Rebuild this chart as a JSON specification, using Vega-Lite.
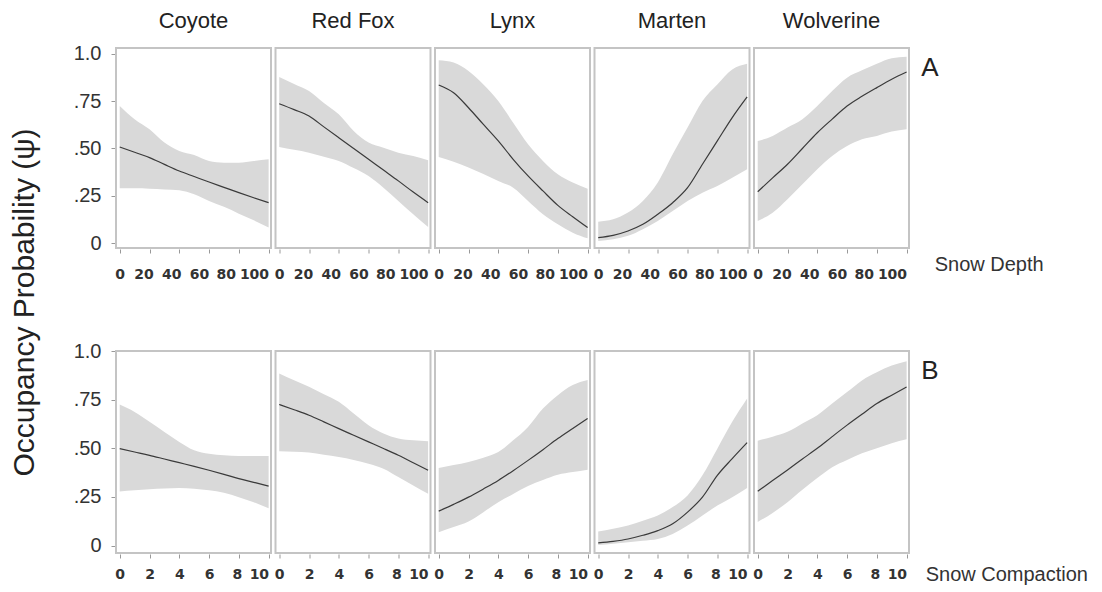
{
  "$schema": "https://vega.github.io/schema/vega-lite/v6.json",
  "background": "white",
  "padding": {"left": 10, "top": 10, "right": 5, "bottom": 5},
  "title": {"text": "Occupancy Probability  (ψ)", "orient": "left", "anchor": "middle", "fontSize": 30, "fontWeight": "normal", "font": "Liberation Sans", "color": "#222222", "offset": 33, "dx": -5},
  "datasets": {
    "depth": [
      {"r":"A","s":"Coyote","x":0,"y":0.508,"lo":0.29,"hi":0.724},
      {"r":"A","s":"Coyote","x":10,"y":0.48,"lo":0.29,"hi":0.654},
      {"r":"A","s":"Coyote","x":20,"y":0.452,"lo":0.288,"hi":0.601},
      {"r":"A","s":"Coyote","x":30,"y":0.416,"lo":0.284,"hi":0.531},
      {"r":"A","s":"Coyote","x":40,"y":0.381,"lo":0.279,"hi":0.487},
      {"r":"A","s":"Coyote","x":50,"y":0.352,"lo":0.258,"hi":0.466},
      {"r":"A","s":"Coyote","x":60,"y":0.323,"lo":0.223,"hi":0.434},
      {"r":"A","s":"Coyote","x":70,"y":0.295,"lo":0.192,"hi":0.425},
      {"r":"A","s":"Coyote","x":80,"y":0.267,"lo":0.156,"hi":0.425},
      {"r":"A","s":"Coyote","x":90,"y":0.24,"lo":0.121,"hi":0.434},
      {"r":"A","s":"Coyote","x":100,"y":0.214,"lo":0.083,"hi":0.443},
      {"r":"A","s":"Red Fox","x":0,"y":0.736,"lo":0.508,"hi":0.877},
      {"r":"A","s":"Red Fox","x":10,"y":0.705,"lo":0.493,"hi":0.84},
      {"r":"A","s":"Red Fox","x":20,"y":0.671,"lo":0.478,"hi":0.803},
      {"r":"A","s":"Red Fox","x":30,"y":0.614,"lo":0.457,"hi":0.74},
      {"r":"A","s":"Red Fox","x":40,"y":0.557,"lo":0.434,"hi":0.68},
      {"r":"A","s":"Red Fox","x":50,"y":0.5,"lo":0.397,"hi":0.592},
      {"r":"A","s":"Red Fox","x":60,"y":0.443,"lo":0.355,"hi":0.531},
      {"r":"A","s":"Red Fox","x":70,"y":0.386,"lo":0.293,"hi":0.504},
      {"r":"A","s":"Red Fox","x":80,"y":0.329,"lo":0.223,"hi":0.478},
      {"r":"A","s":"Red Fox","x":90,"y":0.27,"lo":0.153,"hi":0.46},
      {"r":"A","s":"Red Fox","x":100,"y":0.214,"lo":0.086,"hi":0.438},
      {"r":"A","s":"Lynx","x":0,"y":0.835,"lo":0.455,"hi":0.965},
      {"r":"A","s":"Lynx","x":10,"y":0.794,"lo":0.43,"hi":0.953},
      {"r":"A","s":"Lynx","x":20,"y":0.715,"lo":0.4,"hi":0.909},
      {"r":"A","s":"Lynx","x":30,"y":0.627,"lo":0.365,"hi":0.838},
      {"r":"A","s":"Lynx","x":40,"y":0.54,"lo":0.329,"hi":0.75},
      {"r":"A","s":"Lynx","x":50,"y":0.443,"lo":0.293,"hi":0.636},
      {"r":"A","s":"Lynx","x":60,"y":0.355,"lo":0.223,"hi":0.522},
      {"r":"A","s":"Lynx","x":70,"y":0.276,"lo":0.153,"hi":0.434},
      {"r":"A","s":"Lynx","x":80,"y":0.2,"lo":0.1,"hi":0.364},
      {"r":"A","s":"Lynx","x":90,"y":0.14,"lo":0.056,"hi":0.32},
      {"r":"A","s":"Lynx","x":100,"y":0.083,"lo":0.026,"hi":0.288},
      {"r":"A","s":"Marten","x":0,"y":0.03,"lo":0.012,"hi":0.114},
      {"r":"A","s":"Marten","x":10,"y":0.042,"lo":0.021,"hi":0.127},
      {"r":"A","s":"Marten","x":20,"y":0.065,"lo":0.039,"hi":0.162},
      {"r":"A","s":"Marten","x":30,"y":0.1,"lo":0.074,"hi":0.223},
      {"r":"A","s":"Marten","x":40,"y":0.153,"lo":0.118,"hi":0.32},
      {"r":"A","s":"Marten","x":50,"y":0.214,"lo":0.17,"hi":0.469},
      {"r":"A","s":"Marten","x":60,"y":0.293,"lo":0.223,"hi":0.61},
      {"r":"A","s":"Marten","x":70,"y":0.417,"lo":0.267,"hi":0.75},
      {"r":"A","s":"Marten","x":80,"y":0.54,"lo":0.302,"hi":0.838},
      {"r":"A","s":"Marten","x":90,"y":0.663,"lo":0.346,"hi":0.917},
      {"r":"A","s":"Marten","x":100,"y":0.772,"lo":0.39,"hi":0.947},
      {"r":"A","s":"Wolverine","x":0,"y":0.272,"lo":0.118,"hi":0.539},
      {"r":"A","s":"Wolverine","x":10,"y":0.345,"lo":0.161,"hi":0.566},
      {"r":"A","s":"Wolverine","x":20,"y":0.417,"lo":0.232,"hi":0.61},
      {"r":"A","s":"Wolverine","x":30,"y":0.5,"lo":0.311,"hi":0.654},
      {"r":"A","s":"Wolverine","x":40,"y":0.583,"lo":0.39,"hi":0.724},
      {"r":"A","s":"Wolverine","x":50,"y":0.655,"lo":0.46,"hi":0.803},
      {"r":"A","s":"Wolverine","x":60,"y":0.724,"lo":0.513,"hi":0.873},
      {"r":"A","s":"Wolverine","x":70,"y":0.775,"lo":0.549,"hi":0.912},
      {"r":"A","s":"Wolverine","x":80,"y":0.821,"lo":0.566,"hi":0.947},
      {"r":"A","s":"Wolverine","x":90,"y":0.865,"lo":0.589,"hi":0.976},
      {"r":"A","s":"Wolverine","x":100,"y":0.903,"lo":0.601,"hi":0.984}
    ],
    "comp": [
      {"r":"B","s":"Coyote","x":0,"y":0.498,"lo":0.278,"hi":0.725},
      {"r":"B","s":"Coyote","x":1,"y":0.481,"lo":0.284,"hi":0.687},
      {"r":"B","s":"Coyote","x":2,"y":0.464,"lo":0.289,"hi":0.636},
      {"r":"B","s":"Coyote","x":3,"y":0.445,"lo":0.293,"hi":0.584},
      {"r":"B","s":"Coyote","x":4,"y":0.426,"lo":0.296,"hi":0.533},
      {"r":"B","s":"Coyote","x":5,"y":0.407,"lo":0.292,"hi":0.49},
      {"r":"B","s":"Coyote","x":6,"y":0.387,"lo":0.284,"hi":0.472},
      {"r":"B","s":"Coyote","x":7,"y":0.366,"lo":0.271,"hi":0.464},
      {"r":"B","s":"Coyote","x":8,"y":0.344,"lo":0.249,"hi":0.46},
      {"r":"B","s":"Coyote","x":9,"y":0.325,"lo":0.223,"hi":0.46},
      {"r":"B","s":"Coyote","x":10,"y":0.306,"lo":0.192,"hi":0.46},
      {"r":"B","s":"Red Fox","x":0,"y":0.725,"lo":0.485,"hi":0.885},
      {"r":"B","s":"Red Fox","x":1,"y":0.698,"lo":0.482,"hi":0.85},
      {"r":"B","s":"Red Fox","x":2,"y":0.67,"lo":0.478,"hi":0.816},
      {"r":"B","s":"Red Fox","x":3,"y":0.636,"lo":0.467,"hi":0.778},
      {"r":"B","s":"Red Fox","x":4,"y":0.601,"lo":0.455,"hi":0.739},
      {"r":"B","s":"Red Fox","x":5,"y":0.567,"lo":0.44,"hi":0.679},
      {"r":"B","s":"Red Fox","x":6,"y":0.533,"lo":0.421,"hi":0.619},
      {"r":"B","s":"Red Fox","x":7,"y":0.499,"lo":0.395,"hi":0.576},
      {"r":"B","s":"Red Fox","x":8,"y":0.464,"lo":0.352,"hi":0.55},
      {"r":"B","s":"Red Fox","x":9,"y":0.426,"lo":0.309,"hi":0.541},
      {"r":"B","s":"Red Fox","x":10,"y":0.387,"lo":0.266,"hi":0.536},
      {"r":"B","s":"Lynx","x":0,"y":0.177,"lo":0.069,"hi":0.399},
      {"r":"B","s":"Lynx","x":1,"y":0.212,"lo":0.095,"hi":0.414},
      {"r":"B","s":"Lynx","x":2,"y":0.249,"lo":0.124,"hi":0.43},
      {"r":"B","s":"Lynx","x":3,"y":0.291,"lo":0.172,"hi":0.452},
      {"r":"B","s":"Lynx","x":4,"y":0.335,"lo":0.223,"hi":0.481},
      {"r":"B","s":"Lynx","x":5,"y":0.385,"lo":0.265,"hi":0.541},
      {"r":"B","s":"Lynx","x":6,"y":0.438,"lo":0.306,"hi":0.61},
      {"r":"B","s":"Lynx","x":7,"y":0.493,"lo":0.337,"hi":0.704},
      {"r":"B","s":"Lynx","x":8,"y":0.55,"lo":0.364,"hi":0.773},
      {"r":"B","s":"Lynx","x":9,"y":0.602,"lo":0.378,"hi":0.825},
      {"r":"B","s":"Lynx","x":10,"y":0.653,"lo":0.39,"hi":0.851},
      {"r":"B","s":"Marten","x":0,"y":0.014,"lo":0.003,"hi":0.072},
      {"r":"B","s":"Marten","x":1,"y":0.022,"lo":0.01,"hi":0.087},
      {"r":"B","s":"Marten","x":2,"y":0.034,"lo":0.017,"hi":0.103},
      {"r":"B","s":"Marten","x":3,"y":0.053,"lo":0.025,"hi":0.128},
      {"r":"B","s":"Marten","x":4,"y":0.077,"lo":0.034,"hi":0.155},
      {"r":"B","s":"Marten","x":5,"y":0.112,"lo":0.06,"hi":0.198},
      {"r":"B","s":"Marten","x":6,"y":0.172,"lo":0.103,"hi":0.258},
      {"r":"B","s":"Marten","x":7,"y":0.249,"lo":0.155,"hi":0.361},
      {"r":"B","s":"Marten","x":8,"y":0.361,"lo":0.206,"hi":0.498},
      {"r":"B","s":"Marten","x":9,"y":0.447,"lo":0.249,"hi":0.636},
      {"r":"B","s":"Marten","x":10,"y":0.529,"lo":0.296,"hi":0.756},
      {"r":"B","s":"Wolverine","x":0,"y":0.279,"lo":0.121,"hi":0.539},
      {"r":"B","s":"Wolverine","x":1,"y":0.334,"lo":0.168,"hi":0.56},
      {"r":"B","s":"Wolverine","x":2,"y":0.389,"lo":0.223,"hi":0.585},
      {"r":"B","s":"Wolverine","x":3,"y":0.445,"lo":0.287,"hi":0.628},
      {"r":"B","s":"Wolverine","x":4,"y":0.5,"lo":0.347,"hi":0.67},
      {"r":"B","s":"Wolverine","x":5,"y":0.56,"lo":0.403,"hi":0.73},
      {"r":"B","s":"Wolverine","x":6,"y":0.619,"lo":0.44,"hi":0.789},
      {"r":"B","s":"Wolverine","x":7,"y":0.675,"lo":0.474,"hi":0.849},
      {"r":"B","s":"Wolverine","x":8,"y":0.73,"lo":0.5,"hi":0.891},
      {"r":"B","s":"Wolverine","x":9,"y":0.773,"lo":0.526,"hi":0.925},
      {"r":"B","s":"Wolverine","x":10,"y":0.815,"lo":0.546,"hi":0.947}
    ]
  },
  "vconcat": [
    {
      "data": {"name": "depth"},
      "title": {"text": "Snow Depth", "orient": "bottom", "anchor": "end", "align": "left", "dx": -4, "offset": -26, "fontSize": 20, "fontWeight": "normal", "font": "Liberation Sans", "color": "#333333"},
      "facet": {
        "column": {"field": "s", "type": "nominal", "sort": ["Coyote", "Red Fox", "Lynx", "Marten", "Wolverine"],
          "header": {"title": null, "labelFontSize": 22, "labelFont": "Liberation Sans", "labelColor": "#222222", "labelPadding": 14}},
        "row": {"field": "r", "type": "nominal",
          "header": {"title": null, "labelOrient": "right", "labelAngle": 0, "labelAlign": "left", "labelAnchor": "start", "labelBaseline": "line-top", "labelLineHeight": 40, "labelFontSize": 26, "labelFont": "Liberation Sans", "labelColor": "#222222", "labelPadding": -7}}
      },
      "spacing": {"column": 1.5, "row": 0},
      "spec": {
        "width": 155,
        "height": 200,
        "layer": [
          {
            "mark": {"type": "area", "color": "#d9d9d9", "opacity": 1, "interpolate": "monotone"},
            "encoding": {
              "x": {"field": "x", "type": "quantitative", "title": null,
                "scale": {"domain": [-2.5, 101.6], "nice": false, "zero": false},
                "axis": {"values": [0, 20, 40, 60, 80, 100], "tickCount": 11, "labelOverlap": false, "labelFlush": false, "labelFont": "DejaVu Sans", "labelFontWeight": "bold", "labelFontSize": 14, "labelPadding": 14,
                  "labelAlign": {"condition": {"test": "datum.value == 100", "value": "right"}, "value": "center"},
                  "labelOffset": {"condition": [{"test": "datum.value == 20", "value": -6}, {"test": "datum.value == 40", "value": -8}, {"test": "datum.value == 60", "value": -10}, {"test": "datum.value == 80", "value": -13}], "value": 0}}},
              "y": {"field": "lo", "type": "quantitative", "title": null,
                "scale": {"domain": [-0.025, 1.03], "nice": false, "zero": false},
                "axis": {"values": [0, 0.25, 0.5, 0.75, 1], "tickCount": 10, "labelExpr": "datum.value == 1 ? '1.0' : datum.value == 0 ? '0' : substring(format(datum.value, '.2f'), 1)", "labelFont": "Liberation Sans", "labelFontSize": 20, "labelPadding": 10}},
              "y2": {"field": "hi"}
            }
          },
          {
            "mark": {"type": "line", "color": "#3a3a3a", "strokeWidth": 1.2, "interpolate": "monotone"},
            "encoding": {
              "x": {"field": "x", "type": "quantitative"},
              "y": {"field": "y", "type": "quantitative"}
            }
          }
        ]
      }
    },
    {
      "data": {"name": "comp"},
      "title": {"text": "Snow Compaction", "orient": "bottom", "anchor": "end", "align": "left", "dx": -13, "offset": -16, "fontSize": 20, "fontWeight": "normal", "font": "Liberation Sans", "color": "#333333"},
      "facet": {
        "column": {"field": "s", "type": "nominal", "sort": ["Coyote", "Red Fox", "Lynx", "Marten", "Wolverine"],
          "header": {"title": null, "labels": false}},
        "row": {"field": "r", "type": "nominal",
          "header": {"title": null, "labelOrient": "right", "labelAngle": 0, "labelAlign": "left", "labelAnchor": "start", "labelBaseline": "line-top", "labelLineHeight": 40, "labelFontSize": 26, "labelFont": "Liberation Sans", "labelColor": "#222222", "labelPadding": -7}}
      },
      "spacing": {"column": 1.5, "row": 0},
      "spec": {
        "width": 155,
        "height": 202,
        "layer": [
          {
            "mark": {"type": "area", "color": "#d9d9d9", "opacity": 1, "interpolate": "monotone"},
            "encoding": {
              "x": {"field": "x", "type": "quantitative", "title": null,
                "scale": {"domain": [-0.25, 10.16], "nice": false, "zero": false},
                "axis": {"values": [0, 2, 4, 6, 8, 10], "tickCount": 11, "labelOverlap": false, "labelFlush": false, "labelFont": "DejaVu Sans", "labelFontWeight": "bold", "labelFontSize": 14, "labelPadding": 9,
                  "labelAlign": {"condition": {"test": "datum.value == 10", "value": "right"}, "value": "center"},
                  "labelOffset": {"condition": {"test": "datum.value == 8", "value": -2}, "value": 0}}},
              "y": {"field": "lo", "type": "quantitative", "title": null,
                "scale": {"domain": [-0.038, 1.0], "nice": false, "zero": false},
                "axis": {"values": [0, 0.25, 0.5, 0.75, 1], "tickCount": 10, "labelExpr": "datum.value == 1 ? '1.0' : datum.value == 0 ? '0' : substring(format(datum.value, '.2f'), 1)", "labelFont": "Liberation Sans", "labelFontSize": 20, "labelPadding": 10}},
              "y2": {"field": "hi"}
            }
          },
          {
            "mark": {"type": "line", "color": "#3a3a3a", "strokeWidth": 1.2, "interpolate": "monotone"},
            "encoding": {
              "x": {"field": "x", "type": "quantitative"},
              "y": {"field": "y", "type": "quantitative"}
            }
          }
        ]
      }
    }
  ],
  "spacing": 60,
  "config": {
    "view": {"stroke": "#c4c4c4", "strokeWidth": 2},
    "axis": {"domain": false, "grid": false, "tickColor": "#999999", "tickSize": 4, "labelColor": "#333333"}
  }
}
